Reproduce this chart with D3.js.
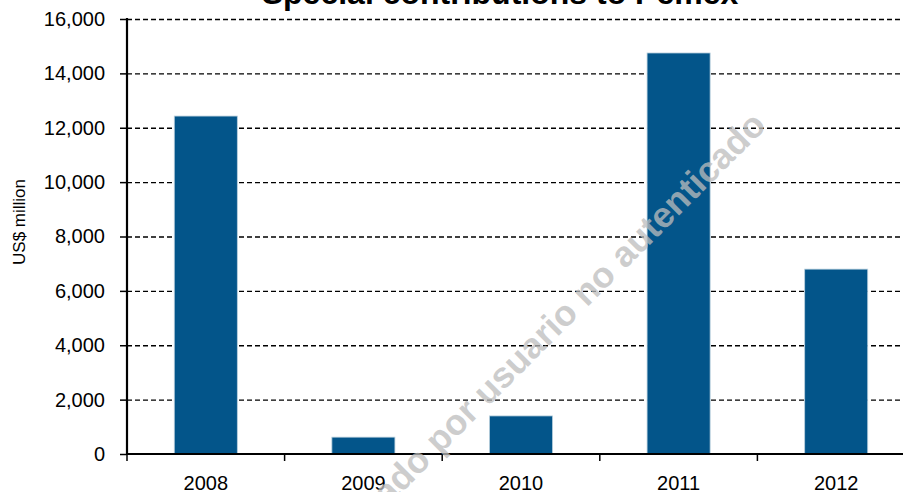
<!DOCTYPE html>
<html>
<head>
<meta charset="utf-8">
<script src="https://cdn.jsdelivr.net/npm/d3@7"></script>
<style>
  body { margin: 0; background: #fff; }
  svg { display: block; font-family: "Liberation Sans", Arial, sans-serif; }
  .grid line { stroke: #000; stroke-width: 1.3; stroke-dasharray: 5,3; }
  .grid .domain { display: none; }
</style>
</head>
<body>
<svg id="chart" width="903" height="492"></svg>
<script>
var years = ["2008", "2009", "2010", "2011", "2012"];
var contributions = [12430, 620, 1400, 14750, 6800];
var yTicks = [0, 2000, 4000, 6000, 8000, 10000, 12000, 14000, 16000];

var svg = d3.select("#chart"),
    plotLeft = 127,
    plotRight = 915,
    plotTop = 19,
    plotBottom = 454;

var x = d3.scaleBand().domain(years).range([plotLeft, plotRight]).paddingInner(0.6).paddingOuter(0.3);
var y = d3.scaleLinear().domain([0, 16000]).range([plotBottom, plotTop]);

// title, mostly cut off by the top edge
svg.append("text")
    .attr("x", 500)
    .attr("y", 4)
    .attr("text-anchor", "middle")
    .attr("font-size", "32px")
    .attr("font-weight", "bold")
    .text("Special contributions to Pemex");

// dashed grid
svg.append("g")
    .attr("class", "grid")
    .attr("transform", "translate(" + plotLeft + ",0)")
    .call(d3.axisLeft(y).tickValues(yTicks.slice(1)).tickFormat("").tickSizeInner(-(903 - plotLeft)).tickSizeOuter(0));

svg.selectAll(".bar")
    .data(years)
    .enter().append("rect")
    .attr("class", "bar")
    .attr("x", function(d) { return x(d); })
    .attr("width", x.bandwidth())
    .attr("y", function(d, i) { return y(contributions[i]); })
    .attr("height", function(d, i) { return plotBottom - y(contributions[i]); })
    .attr("fill", "#03558a")
    .attr("stroke", "#b9cfdd")
    .attr("stroke-width", 0.8);

// y axis
var yAxis = svg.append("g")
    .attr("transform", "translate(" + plotLeft + ",0)")
    .call(d3.axisLeft(y).tickValues(yTicks).tickFormat(d3.format(",")).tickSize(7).tickPadding(15));
yAxis.select(".domain").attr("stroke-width", 2.2).attr("d", "M0," + (plotTop - 1) + "V" + plotBottom);
yAxis.selectAll(".tick line").attr("stroke-width", 1.5);
yAxis.selectAll("text").attr("font-size", "20px").attr("fill", "#000").attr("font-family", "Liberation Sans, Arial, sans-serif");

// x axis
var xAxis = svg.append("g")
    .attr("transform", "translate(0," + plotBottom + ")")
    .call(d3.axisBottom(x).tickSize(0).tickPadding(22));
xAxis.select(".domain").attr("stroke-width", 2.2).attr("d", "M" + plotLeft + ",0H903");
xAxis.selectAll("text").attr("font-size", "20px").attr("fill", "#000").attr("font-family", "Liberation Sans, Arial, sans-serif");

// category boundary ticks
xAxis.selectAll(".sep")
    .data(years)
    .enter().append("line")
    .attr("class", "sep")
    .attr("x1", function(d) { return x(d) - x.step() * 0.3; })
    .attr("x2", function(d) { return x(d) - x.step() * 0.3; })
    .attr("y1", 0)
    .attr("y2", 7)
    .attr("stroke", "#000")
    .attr("stroke-width", 1.5);

// y label
svg.append("text")
    .attr("transform", "translate(25,222) rotate(-90)")
    .attr("text-anchor", "middle")
    .attr("font-size", "17px")
    .text("US$ million");

// watermark
svg.append("text")
    .attr("transform", "translate(759,118) rotate(-45)")
    .attr("text-anchor", "end")
    .attr("dominant-baseline", "central")
    .attr("font-size", "36px")
    .attr("font-weight", "bold")
    .attr("fill", "#bdbdbd")
    .attr("fill-opacity", 0.75)
    .text("Documento descargado por usuario no autenticado");
</script>
</body>
</html>
